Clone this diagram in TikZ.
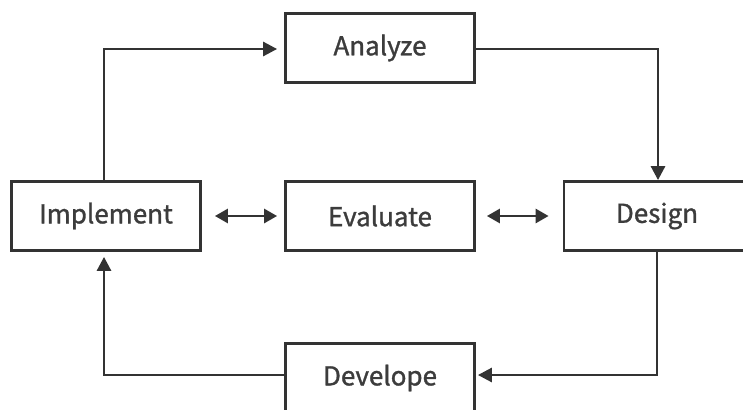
\documentclass[tikz,border=0pt]{standalone}
\usepackage{fontspec}
\setmainfont{Noto Sans CJK KR}[BoldFont={Noto Sans CJK KR},BoldFeatures={FakeBold=1.2}]
\usetikzlibrary{arrows.meta,calc}
\definecolor{linec}{HTML}{333333}
\definecolor{textc}{HTML}{3C3C3C}
\tikzset{
  stage/.style={draw=linec, line width=2.8pt, fill=white, minimum width=189pt, minimum height=69pt, inner sep=0pt, text=textc, font=\fontsize{26}{30}\selectfont\bfseries},
  flow/.style={draw=linec, line width=2.8pt, -{Triangle[length=14pt,width=14pt]}},
  both/.style={draw=linec, line width=2.8pt, {Triangle[length=13pt,width=14pt]}-{Triangle[length=13pt,width=14pt]}}
}
\begin{document}
\begin{tikzpicture}[x=1pt,y=-1pt]
\useasboundingbox (0,0) rectangle (743,409);
\clip (0,0) rectangle (743,409);
\fill[white] (0,0) rectangle (743,409);
\node[stage] (analyze) at (380,48) {Analyze};
\node[stage] (implement) at (106,216) {Implement};
\node[stage] (evaluate) at (380,216) {Evaluate};
\node[stage, minimum width=186pt] (design) at (657,216) {Design};
\node[stage] (develope) at (380,378) {Develope};
\coordinate (c1) at (104,49);
\coordinate (c2) at (658,49);
\coordinate (c3) at (657,375);
\coordinate (c4) at (104,375);
\draw[flow, shorten >=7pt] (implement.north -| c1) -- (c1) -- (analyze.west |- c1);
\draw[flow] (analyze.east |- c2) -- (c2) -- (design.north -| c2);
\draw[flow, shorten >=2pt] (design.south -| c3) -- (c3) -- (develope.east |- c3);
\draw[flow, shorten >=5pt] (develope.west |- c4) -- (c4) -- (implement.south -| c4);
\draw[both, shorten <=13pt, shorten >=7pt] (implement.east) -- (evaluate.west);
\draw[both, shorten <=11pt, shorten >=14pt] (evaluate.east) -- (design.west);
\end{tikzpicture}
\end{document}
